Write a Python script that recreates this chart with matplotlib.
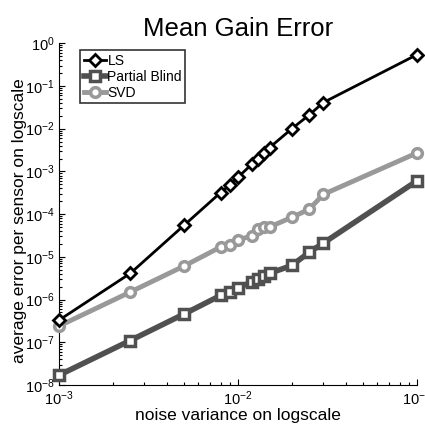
import matplotlib
matplotlib.use('Agg')
import matplotlib.pyplot as plt
from matplotlib.ticker import LogLocator, NullFormatter

plt.rcParams['font.family'] = ['Liberation Sans', 'DejaVu Sans']
plt.rcParams['mathtext.fontset'] = 'custom'
plt.rcParams['mathtext.rm'] = 'Liberation Sans'

# noise variance sweep
noise_var = [0.001, 0.0025, 0.005, 0.008, 0.009, 0.01, 0.012, 0.013,
             0.014, 0.015, 0.02, 0.025, 0.03, 0.1]

err_ls = [3.3e-7, 4.1e-6, 5.5e-5, 3.2e-4, 4.8e-4, 7.3e-4, 1.5e-3, 2.0e-3,
          2.7e-3, 3.6e-3, 1.0e-2, 2.1e-2, 4.1e-2, 0.54]
err_pb = [1.7e-8, 1.1e-7, 4.6e-7, 1.25e-6, 1.5e-6, 1.9e-6, 2.6e-6, 3.1e-6,
          3.6e-6, 4.1e-6, 6.3e-6, 1.28e-5, 2.1e-5, 6.0e-4]
err_svd = [2.4e-7, 1.5e-6, 6.1e-6, 1.7e-5, 1.9e-5, 2.5e-5, 3.1e-5, 4.5e-5,
           4.9e-5, 5.0e-5, 8.4e-5, 1.3e-4, 2.9e-4, 2.7e-3]

fig = plt.figure(figsize=(4.25, 4.24), dpi=100)
ax = fig.add_axes([0.139, 0.092, 0.842, 0.806])

ax.plot(noise_var, err_ls, color='black', linewidth=2, marker='D',
        markersize=6, markerfacecolor='white', markeredgecolor='black',
        markeredgewidth=2, label='LS', clip_on=False, zorder=5)
ax.plot(noise_var, err_pb, color='#505050', linewidth=4, marker='s',
        markersize=6.5, markerfacecolor='white', markeredgecolor='#505050',
        markeredgewidth=2.5, label='Partial Blind', clip_on=False, zorder=3)
ax.plot(noise_var, err_svd, color='#999999', linewidth=3.5, marker='o',
        markersize=7, markerfacecolor='white', markeredgecolor='#999999',
        markeredgewidth=2.5, label='SVD', clip_on=False, zorder=4)

ax.set_xscale('log')
ax.set_yscale('log')
ax.set_xlim(1e-3, 1e-1)
ax.set_ylim(1e-8, 1e0)

ax.yaxis.set_major_locator(LogLocator(base=10, numticks=20))
ax.yaxis.set_minor_locator(LogLocator(base=10, subs=range(2, 10), numticks=20))
ax.yaxis.set_minor_formatter(NullFormatter())
ax.xaxis.set_minor_formatter(NullFormatter())

ax.tick_params(which='both', direction='in', labelsize=10.5, width=0.8)
ax.tick_params(which='major', length=4)
ax.tick_params(which='minor', length=2)
ax.tick_params(axis='x', pad=3)
ax.tick_params(axis='y', pad=3)
ax.spines['top'].set_visible(False)
ax.spines['right'].set_visible(False)

ax.set_title('Mean Gain Error', fontsize=18.5, pad=5)
ax.set_xlabel('noise variance on logscale', fontsize=12.5, labelpad=0)
ax.set_ylabel('average error per sensor on logscale', fontsize=12.5)
ax.yaxis.set_label_coords(-0.09, 0.48)

leg = ax.legend(loc='upper left', fontsize=10, frameon=True, fancybox=False,
                handlelength=1.6, handletextpad=0.1, borderpad=0.25,
                labelspacing=0.15, borderaxespad=0.5, bbox_to_anchor=(0.04, 1.0))
leg.get_frame().set_edgecolor('black')
leg.get_frame().set_linewidth(1.2)

fig.savefig('out.png', dpi=100)
plt.close()
